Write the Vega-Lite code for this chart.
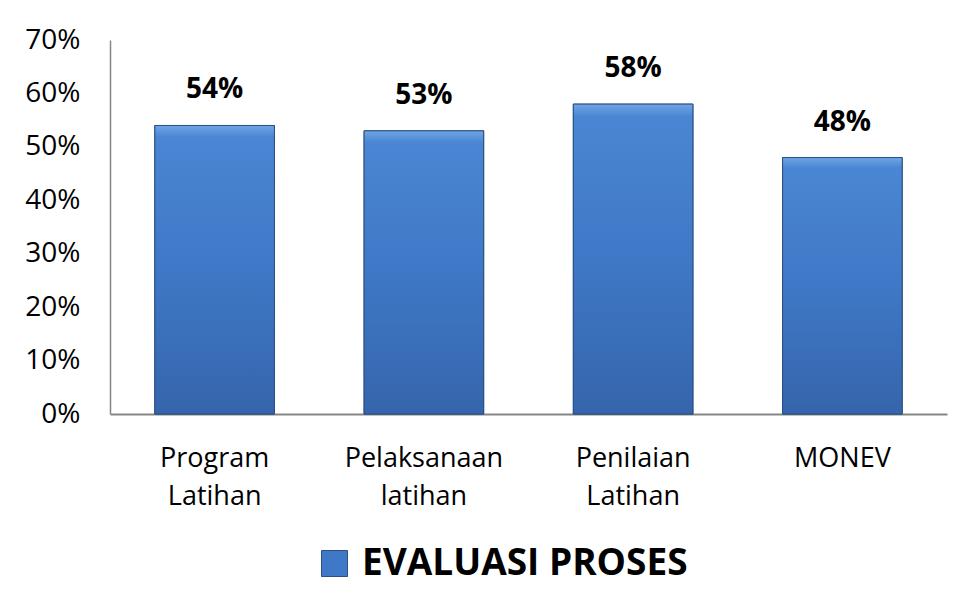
{
  "$schema": "https://vega.github.io/schema/vega-lite/v6.json",
  "width": 837,
  "height": 374,
  "autosize": {"type": "none"},
  "padding": {"left": 110, "top": 40, "right": 20, "bottom": 196},
  "background": "white",
  "config": {
    "view": {"stroke": null},
    "font": "Open Sans"
  },
  "data": {
    "values": [
      {"kategori": "Program Latihan", "nilai": 0.54, "seri": "EVALUASI PROSES"},
      {"kategori": "Pelaksanaan latihan", "nilai": 0.53, "seri": "EVALUASI PROSES"},
      {"kategori": "Penilaian Latihan", "nilai": 0.58, "seri": "EVALUASI PROSES"},
      {"kategori": "MONEV", "nilai": 0.48, "seri": "EVALUASI PROSES"}
    ]
  },
  "encoding": {
    "x": {
      "field": "kategori",
      "type": "nominal",
      "sort": null,
      "scale": {"paddingInner": 0.4286, "paddingOuter": 0.2143},
      "axis": {
        "title": null,
        "labelAngle": 0,
        "labelFont": "Open Sans",
        "labelFontSize": 27,
        "labelColor": "#000000",
        "labelExpr": "split(datum.label, ' ')",
        "labelLineHeight": 38,
        "labelBaseline": "top",
        "labelPadding": 31,
        "ticks": false,
        "tickSize": 0,
        "domainColor": "#868686",
        "domainWidth": 2,
        "labelLimit": 300
      }
    },
    "y": {
      "field": "nilai",
      "type": "quantitative",
      "scale": {"domain": [0, 0.7], "nice": false},
      "axis": {
        "title": null,
        "format": ".0%",
        "values": [0, 0.1, 0.2, 0.3, 0.4, 0.5, 0.6, 0.7],
        "grid": false,
        "ticks": false,
        "tickSize": 0,
        "labelPadding": 30,
        "labelFont": "Open Sans",
        "labelFontSize": 28,
        "labelColor": "#000000",
        "domainColor": "#868686",
        "domainWidth": 1.5
      }
    }
  },
  "layer": [
    {
      "mark": {"type": "bar", "stroke": "#2B4F80", "strokeWidth": 1},
      "encoding": {
        "color": {
          "field": "seri",
          "type": "nominal",
          "scale": {"range": ["#3F78C6"]},
          "legend": {
            "title": null,
            "orient": "none",
            "legendX": 206,
            "legendY": 505,
            "symbolType": "square",
            "symbolSize": 676,
            "symbolStrokeWidth": 1,
            "symbolStrokeColor": "#2B4F80",
            "labelFont": "Open Sans",
            "labelFontSize": 37,
            "labelFontWeight": "bold",
            "labelColor": "#000000",
            "labelLimit": 600,
            "labelOffset": 9
          }
        }
      }
    },
    {
      "mark": {
        "type": "bar",
        "stroke": "#2B4F80",
        "strokeWidth": 1,
        "color": {
          "gradient": "linear",
          "x1": 0, "y1": 0, "x2": 0, "y2": 1,
          "stops": [
            {"offset": 0, "color": "#6FA6E6"},
            {"offset": 0.04, "color": "#4A86D3"},
            {"offset": 0.5, "color": "#3F78C6"},
            {"offset": 1, "color": "#3565AC"}
          ]
        }
      }
    },
    {
      "mark": {
        "type": "text",
        "font": "Open Sans",
        "fontSize": 28,
        "fontWeight": "bold",
        "color": "#000000",
        "baseline": "alphabetic",
        "dy": -27
      },
      "encoding": {
        "text": {"field": "nilai", "type": "quantitative", "format": ".0%"}
      }
    }
  ]
}
